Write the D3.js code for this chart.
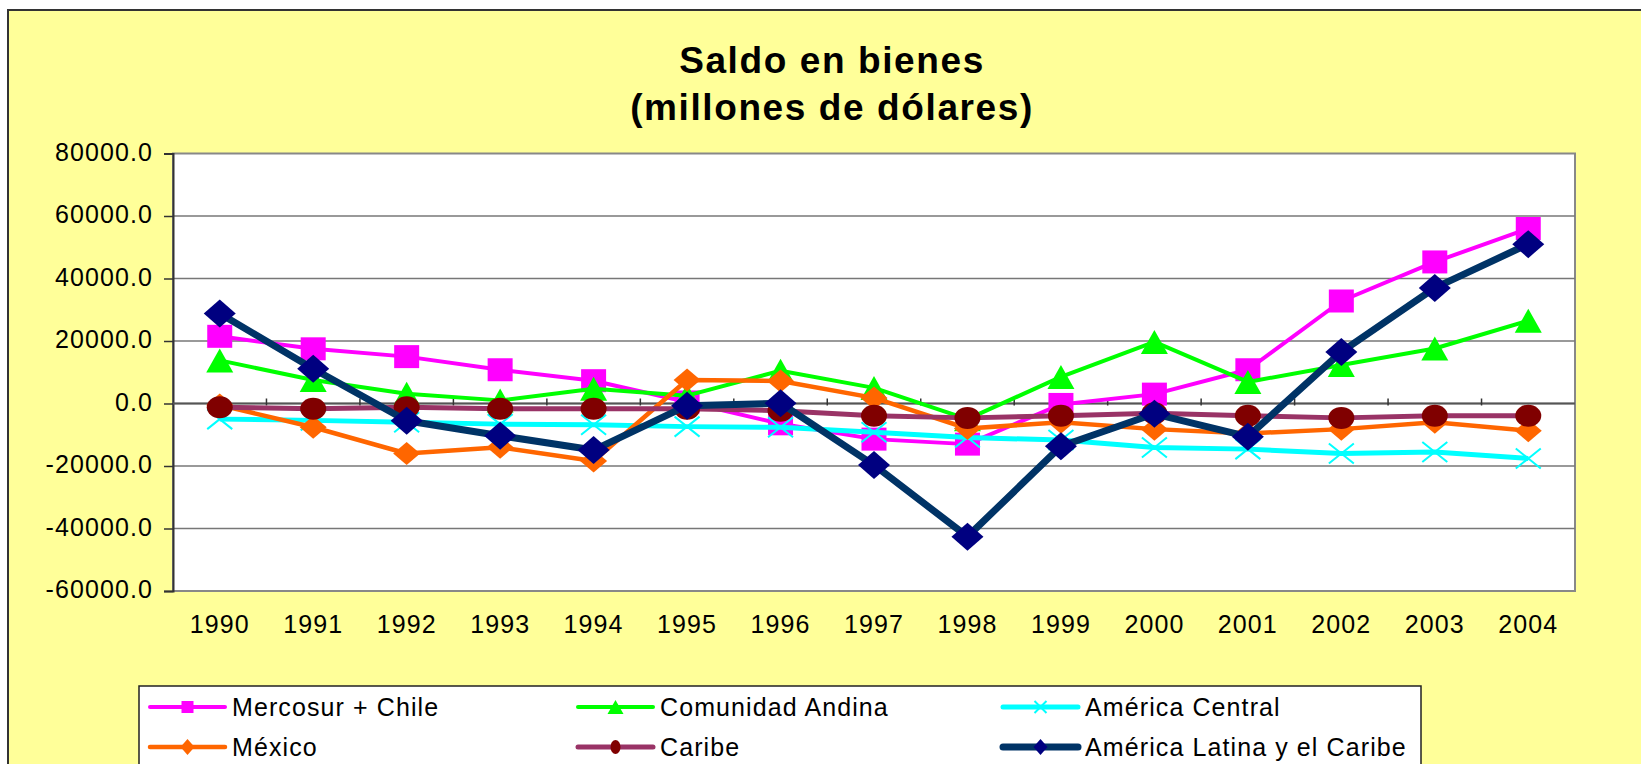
<!DOCTYPE html>
<html>
<head>
<meta charset="utf-8">
<script src="https://cdn.jsdelivr.net/npm/d3@7"></script>
<style>
  html, body { margin: 0; padding: 0; background: #fff; overflow: hidden; }
  text { font-family: "Liberation Sans", Arial, sans-serif; fill: #000; }
</style>
</head>
<body>
<svg id="chart" width="1641" height="764"></svg>
<script>
const years = ['1990', '1991', '1992', '1993', '1994', '1995', '1996', '1997', '1998', '1999', '2000', '2001', '2002', '2003', '2004'];
const yTicks = [-60000, -40000, -20000, 0, 20000, 40000, 60000, 80000];

const mercosur = [21500, 17500, 15000, 10800, 7300, 500, -6500, -11400, -13000, -300, 3000, 10800, 32800, 45300, 56000];
const andina = [13800, 7500, 3100, 1000, 4700, 2500, 10500, 5000, -5000, 8500, 19700, 6900, 12300, 17600, 26500];
const central = [-5000, -5400, -6000, -6600, -6800, -7400, -7600, -9200, -10900, -11700, -14100, -14600, -16000, -15500, -17600];
const mexico = [-500, -7600, -16000, -14000, -18400, 7500, 7200, 1800, -8000, -6000, -8200, -9600, -8200, -6000, -8700];
const caribe = [-1200, -1700, -1200, -1700, -1700, -1700, -2300, -3900, -4600, -3900, -3100, -3900, -4600, -3900, -3900];
const latam = [28800, 11100, -5500, -10300, -14900, -700, 100, -19700, -42600, -13700, -3300, -10600, 16500, 37000, 51000];

// series in excel drawing order
const series = [
  { name: 'Mercosur + Chile', values: mercosur, line: '#ff00ff', fill: '#ff00ff', width: 4, marker: 'square', w: 25, h: 23 },
  { name: 'Comunidad Andina', values: andina, line: '#00ff00', fill: '#00ff00', width: 4, marker: 'triangle', w: 27, h: 24 },
  { name: 'América Central', values: central, line: '#00ffff', fill: '#00ffff', width: 5, marker: 'cross', w: 25, h: 20 },
  { name: 'México', values: mexico, line: '#ff6600', fill: '#ff6600', width: 4.5, marker: 'diamond', w: 27, h: 23 },
  { name: 'Caribe', values: caribe, line: '#993366', fill: '#800000', width: 5, marker: 'circle', w: 26, h: 22 },
  { name: 'América Latina y el Caribe', values: latam, line: '#003366', fill: '#000080', width: 7, marker: 'diamond', w: 32, h: 28 }
];

const svg = d3.select('#chart');

// chart area (runs off the right/bottom edge like the original)
svg.append('rect')
  .attr('x', 8).attr('y', 10)
  .attr('width', 1660).attr('height', 800)
  .attr('fill', '#ffff99')
  .attr('stroke', '#333').attr('stroke-width', 2);

// title
const title = svg.append('text')
  .attr('text-anchor', 'middle')
  .style('font-weight', 'bold')
  .style('font-size', '37px')
  .style('letter-spacing', '1.6px');
title.append('tspan').attr('x', 832).attr('y', 73).text('Saldo en bienes');
title.append('tspan').attr('x', 832).attr('y', 120).text('(millones de dólares)');

const plot = { left: 173, right: 1575, top: 153.5, bottom: 591 };

const x = d3.scaleBand().domain(years).range([plot.left, plot.right]).padding(0);
const y = d3.scaleLinear().domain([-60000, 80000]).range([plot.bottom, plot.top]);
const cx = d => x(d) + x.bandwidth() / 2;

svg.append('rect')
  .attr('x', plot.left).attr('y', plot.top)
  .attr('width', plot.right - plot.left).attr('height', plot.bottom - plot.top)
  .attr('fill', '#fff')
  .attr('stroke', '#888').attr('stroke-width', 2);

// grid lines
svg.append('g')
  .selectAll('line')
  .data(yTicks.filter(t => t !== -60000 && t !== 80000))
  .enter()
  .append('line')
  .attr('x1', plot.left).attr('x2', plot.right)
  .attr('y1', d => y(d)).attr('y2', d => y(d))
  .attr('stroke', '#777').attr('stroke-width', 1.5);

// y axis, plain hyphen for negatives like excel
const yAxis = svg.append('g')
  .attr('transform', `translate(${plot.left},0)`)
  .call(d3.axisLeft(y).tickValues(yTicks).tickSize(9).tickPadding(11)
    .tickFormat(d => d.toFixed(1)));
yAxis.select('.domain').attr('stroke', '#333').attr('stroke-width', 2);
yAxis.selectAll('.tick line').attr('stroke', '#333').attr('stroke-width', 1.5);
yAxis.selectAll('.tick text')
  .attr('dy', '0.27em')
  .style('font-size', '25px')
  .style('letter-spacing', '1.1px')
  .style('font-family', '"Liberation Sans", Arial, sans-serif');

// category axis sits on zero
const xAxis = svg.append('g')
  .attr('transform', `translate(0,${y(0)})`);
xAxis.append('line')
  .attr('x1', plot.left).attr('x2', plot.right)
  .attr('stroke', '#555').attr('stroke-width', 2);
xAxis.selectAll('.xtick')
  .data(years.slice(1))
  .enter()
  .append('line')
  .attr('class', 'xtick')
  .attr('x1', d => x(d)).attr('x2', d => x(d))
  .attr('y1', -5).attr('y2', 2)
  .attr('stroke', '#333').attr('stroke-width', 1.5);

svg.append('g')
  .selectAll('text')
  .data(years)
  .enter()
  .append('text')
  .attr('x', cx)
  .attr('y', 633)
  .attr('text-anchor', 'middle')
  .style('font-size', '25px')
  .style('letter-spacing', '1.1px')
  .text(d => d);

function markerPath(type, w, h) {
  const a = w / 2, b = h / 2;
  if (type === 'square') return `M${-a},${-b}H${a}V${b}H${-a}Z`;
  if (type === 'triangle') return `M0,${-b}L${a},${b}L${-a},${b}Z`;
  if (type === 'diamond') return `M0,${-b}L${a},0L0,${b}L${-a},0Z`;
  if (type === 'cross') return `M${-a},${-b}L${a},${b}M${a},${-b}L${-a},${b}`;
  return '';
}

function drawMarker(g, s, w, h) {
  if (s.marker === 'circle') {
    g.append('ellipse').attr('rx', w / 2).attr('ry', h / 2).attr('fill', s.fill);
  } else if (s.marker === 'cross') {
    g.append('path').attr('d', markerPath('cross', w, h))
      .attr('fill', 'none').attr('stroke', s.fill).attr('stroke-width', 2);
  } else {
    g.append('path').attr('d', markerPath(s.marker, w, h)).attr('fill', s.fill);
  }
}

const line = d3.line()
  .x((d, i) => cx(years[i]))
  .y(d => y(d));

series.forEach(s => {
  const g = svg.append('g').attr('class', 'series');
  g.append('path')
    .attr('d', line(s.values))
    .attr('fill', 'none')
    .attr('stroke', s.line)
    .attr('stroke-width', s.width)
    .attr('stroke-linejoin', 'round');
  s.values.forEach((v, i) => {
    const m = g.append('g').attr('transform', `translate(${cx(years[i])},${y(v)})`);
    drawMarker(m, s, s.w, s.h);
  });
});

// legend
const legend = svg.append('g');
legend.append('rect')
  .attr('x', 139).attr('y', 686)
  .attr('width', 1282).attr('height', 120)
  .attr('fill', '#fff')
  .attr('stroke', '#222').attr('stroke-width', 1.5);

const colX = [150, 578, 1003];
const rowY = [707, 747];
series.forEach((s, i) => {
  const lx = colX[i % 3], ly = rowY[Math.floor(i / 3)];
  const item = legend.append('g').attr('transform', `translate(${lx},${ly})`);
  item.append('line')
    .attr('x1', 0).attr('x2', 75)
    .attr('stroke', s.line).attr('stroke-width', s.width)
    .attr('stroke-linecap', 'round');
  const m = item.append('g').attr('transform', 'translate(37.5,0)');
  const small = s.marker === 'diamond' ? [14, 16] : s.marker === 'circle' ? [10, 14] : s.marker === 'triangle' ? [16, 14] : [12, 12];
  drawMarker(m, s, small[0], small[1]);
  item.append('text')
    .attr('x', 82).attr('dy', '0.36em')
    .style('font-size', '25px')
    .style('letter-spacing', '1.1px')
    .text(s.name);
});
</script>
</body>
</html>
